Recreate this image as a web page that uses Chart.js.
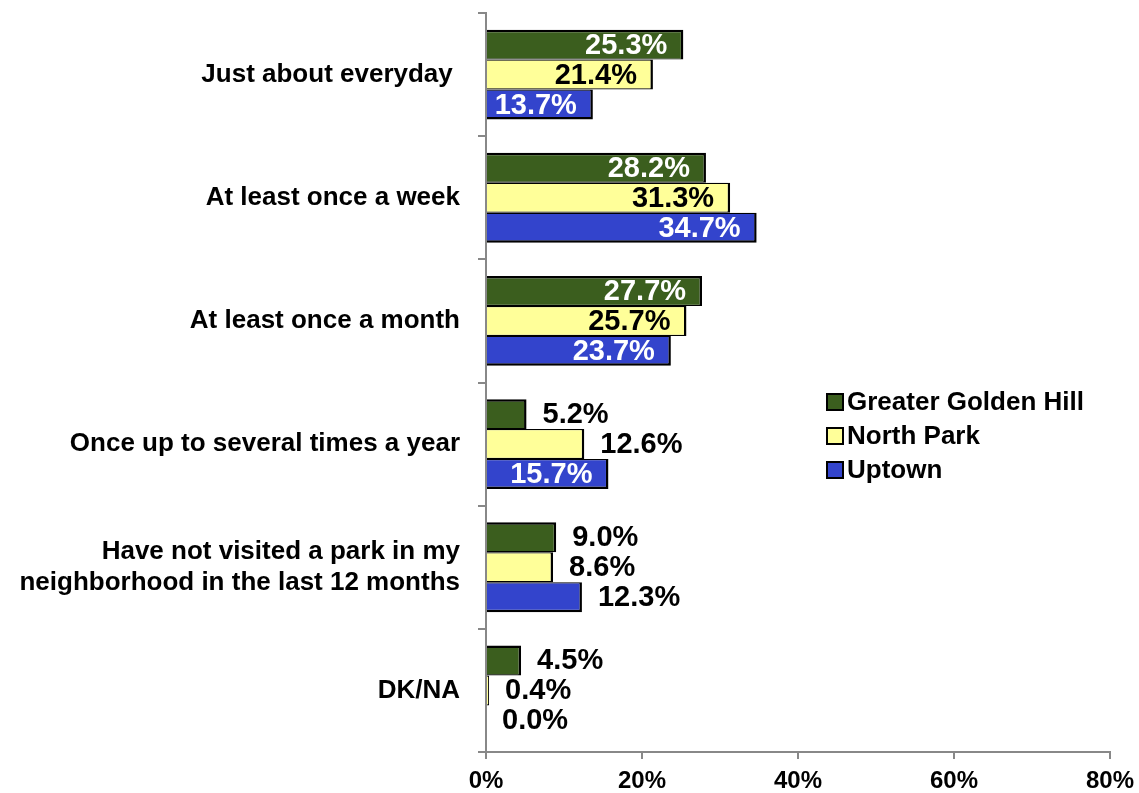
<!DOCTYPE html>
<html>
<head>
<meta charset="utf-8">
<script src="https://cdn.jsdelivr.net/npm/chart.js@4.4.1/dist/chart.umd.min.js"></script>
<style>
html,body{margin:0;padding:0;background:#fff;}
#wrap{width:1139px;height:793px;}
</style>
</head>
<body>
<div id="wrap"><canvas id="c" width="1139" height="793"></canvas></div>
<script>
const categories = [
  'Just about everyday ',
  'At least once a week',
  'At least once a month',
  'Once up to several times a year',
  ['Have not visited a park in my', 'neighborhood in the last 12 months'],
  'DK/NA'
];
const seriesNames = ['Greater Golden Hill', 'North Park', 'Uptown'];
const goldenHill = [25.3, 28.2, 27.7, 5.2, 9.0, 4.5];
const northPark = [21.4, 31.3, 25.7, 12.6, 8.6, 0.4];
const uptown = [13.7, 34.7, 23.7, 15.7, 12.3, 0.0];
const xTickValues = [0, 20, 40, 60, 80];

const FONT = '"Liberation Sans", Arial, sans-serif';
const fills = ['#3b5e1e', '#ffff99', '#3344cc'];
const insideText = ['#ffffff', '#000000', '#ffffff'];
const borders = [
  {top: 2.5, right: 2.5, bottom: 1.2, left: 0},
  {top: 1.2, right: 2.5, bottom: 1.2, left: 0},
  {top: 1.2, right: 2.5, bottom: 2.5, left: 0}
];

const labelPlugin = {
  id: 'barLabels',
  afterDatasetsDraw(chart) {
    const ctx = chart.ctx;
    ctx.save();
    ctx.font = 'bold 29px ' + FONT;
    ctx.textBaseline = 'middle';
    chart.data.datasets.forEach((ds, i) => {
      const meta = chart.getDatasetMeta(i);
      meta.data.forEach((bar, j) => {
        const v = ds.data[j];
        const txt = v.toFixed(1) + '%';
        if (v >= 13.5) {
          ctx.textAlign = 'right';
          ctx.fillStyle = insideText[i];
          ctx.fillText(txt, bar.x - 16, bar.y + 1);
        } else {
          ctx.textAlign = 'left';
          ctx.fillStyle = '#000';
          ctx.fillText(txt, bar.x + 16, bar.y + 1);
        }
      });
    });
    ctx.restore();
  }
};

const legendPlugin = {
  id: 'sideLegend',
  afterDraw(chart) {
    const ctx = chart.ctx;
    ctx.save();
    ctx.font = 'bold 26px ' + FONT;
    ctx.textBaseline = 'middle';
    ctx.textAlign = 'left';
    const x0 = 827, y0 = 402, step = 34, box = 16;
    chart.data.datasets.forEach((ds, i) => {
      const cy = y0 + i * step;
      ctx.fillStyle = ds.backgroundColor;
      ctx.fillRect(x0, cy - box / 2, box, box);
      ctx.lineWidth = 2;
      ctx.strokeStyle = '#000';
      ctx.strokeRect(x0, cy - box / 2, box, box);
      ctx.fillStyle = '#000';
      ctx.fillText(ds.label, x0 + box + 4, cy + 1);
    });
    ctx.restore();
  }
};

const seriesValues = [goldenHill, northPark, uptown];

new Chart(document.getElementById('c'), {
  type: 'bar',
  data: {
    labels: categories,
    datasets: seriesValues.map((vals, i) => ({
      label: seriesNames[i],
      data: vals,
      backgroundColor: fills[i],
      borderColor: '#000',
      borderWidth: borders[i],
      borderSkipped: false,
      categoryPercentage: 0.73,
      barPercentage: 1.0
    }))
  },
  options: {
    indexAxis: 'y',
    responsive: false,
    animation: false,
    devicePixelRatio: 1,
    layout: {padding: {top: 13, right: 29, bottom: 0, left: 0}},
    plugins: {
      legend: {display: false},
      tooltip: {enabled: false}
    },
    scales: {
      x: {
        min: 0,
        max: 80,
        afterBuildTicks(scale) { scale.ticks = xTickValues.map(v => ({value: v})); },
        afterFit(scale) { scale.height = 41; scale.paddingLeft = 0; scale.paddingRight = 0; },
        grid: {drawOnChartArea: false, drawTicks: true, tickLength: 7, color: '#888888', lineWidth: 2},
        border: {color: '#888888', width: 2},
        ticks: {
          callback: v => v + '%',
          color: '#000',
          font: {family: FONT, size: 24, weight: 'bold'},
          padding: 8,
          maxRotation: 0
        }
      },
      y: {
        afterFit(scale) { scale.width = 486; scale.paddingTop = 0; scale.paddingBottom = 0; },
        grid: {drawOnChartArea: false, drawTicks: true, tickLength: 8, color: '#888888', lineWidth: 2, offset: true},
        border: {color: '#888888', width: 2},
        ticks: {
          color: '#000',
          font: {family: FONT, size: 26, weight: 'bold', lineHeight: 1.2},
          padding: 18,
          crossAlign: 'near'
        }
      }
    }
  },
  plugins: [labelPlugin, legendPlugin]
});
</script>
</body>
</html>
